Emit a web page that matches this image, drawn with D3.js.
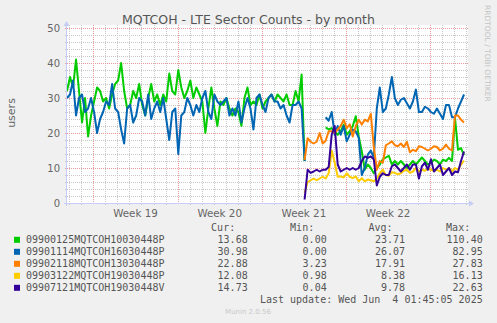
<!DOCTYPE html>
<html><head><meta charset="utf-8">
<script src="https://cdn.jsdelivr.net/npm/d3@7"></script>
<style>body{margin:0;background:#f0f0f0;}svg{display:block}</style>
</head><body><svg id="c" width="497" height="323"></svg>
<script>
const title = "MQTCOH - LTE Sector Counts - by month";
const yLabel = "users";
const seriesNames = ["09900125MQTCOH10030448P","09901114MQTCOH16030448P","09902118MQTCOH13030448P","09903122MQTCOH19030448P","09907121MQTCOH19030448V"];
const seriesColors = ["#00cc00","#0066b3","#ff8000","#ffcc00","#330099"];
const N6 = [null,null,null,null,null,null];
const N79 = Array(79).fill(null);
const green = [32,36,33,41,32,23,30,19,25,29, 33,32,29,30,27,31,34,35,40,32, 27,28,32,30,34,28,25,30,34,29, 31,28,31,29,37,32,31,38,33,30, 32,35,30,33,31,29,20,27,33,27, 22,29,28,30,27,25,27,26,22,30, 33,28,29,28,31,27,29,30,31,29, 31,30,29,31,28,28,32,29,36.7,12,
  ...N6,
  21.6,21,21.4,20.5,19.5,20.5,22.4,19.5,20.5,22, 24.8,19,14.8,9.5,11,10,8.5,10,11,12.5, 13,13.5,11,12,11,12,11,10,11,12, 11,12,13,12,11,11.5,12.4,12,11,12.4, 12,12.9,12,24.3,15.2,15.7,13.7];
const blue = [30,31,35,25,30,31,26,27,30,26, 20,24,26,29,28,34,27,26,21,17, 27,28,23,25,30,29,25,31,24,27, 29,26,30,24,18,26,27,14,25,26, 30,28,25,28,26,30,32,26,24,31, 29,28,29,30,25,27,25,29,23,27, 30,27,21,30,31,28,26,30,31,29, 29,27,28,25,23,28,28,29,27,12,
  ...N6,
  24.5,23.5,26,19.5,22,19.5,22,17.6,19.5,21, 20.5,18.6,8,10,13.8,15,13,27,33,26, 27,31,36,30,28,29.5,30,28.5,27,29, 32.4,26,26,27.5,27,26,25.5,27,25.5,24, 28,28,24.5,24.5,27,29,31];
const orange = [...N79, 12.3,18.5,17.5,17,17.5,20,17,17.8,20.5,20.5, 20,21,22,23.8,21.4,22.5,19,22,23.8,22.4, 23.8,23.3,25.5,16,9.5,12,11.5,16.5,17,17.6, 16.5,16.2,17,16,17.5,14.5,15.2,14.8,16.2,16, 15.5,15,15.5,16.2,16,15,15.5,16.7,15.5,15, 25,25,23.8,23];
const yellow = [...N79, 2.9,6,6.5,7,6.5,7,7.5,7,8.5,15, 11.5,7.5,7.6,7.3,8.5,7.5,7.1,7.6,6.2,7.1, 6.2,6.7,6.5,6.2,7,8.5,9.5,8,7.8,8.8, 8.6,8.2,8.5,9.2,9.5,8.6,9,10,9,9.5, 9.2,9.8,9.5,9.2,9.5,9,10,9.5,10,9, 10,9.5,11,12.1];
const purple = [...N79, 1,9.5,8.6,9,9.5,9,9.5,9.5,10.3,19.5, 22,11,9,9.5,10,9.5,10,9.5,10,12, 13.3,12.9,13.3,12.5,5,7.5,8.5,8,8,10.5, 11,10,9,10,11,9.5,11,11,7,10.5, 11.5,9.5,12.5,9,10,11,8,9,10,8, 9,8.8,12,14.7];
const curVals = ["13.68","30.98","22.88","12.08","14.73"];
const minVals = ["0.00","0.00","3.23","0.98","0.04"];
const avgVals = ["23.71","26.07","17.91","8.38","9.78"];
const maxVals = ["110.40","82.95","27.83","16.13","22.63"];
const colHeads = ["Cur:","Min:","Avg:","Max:"];
const yTicks = [0,10,20,30,40,50];
const lastUpdate = "Last update: Wed Jun  4 01:45:05 2025";
const version = "Munin 2.0.56";
const watermark = "RRDTOOL / TOBI OETIKER";
const startTime = new Date(Date.UTC(2025,4,2,19,26));
const stepHours = 6;
const spanDays = 33.33;

const svg = d3.select("#c");
const W = 497, H = 323;
svg.append("rect").attr("width",W).attr("height",H).attr("fill","#f0f0f0");
const L = 67, R = 468, T = 28, B = 203;
const endTime = new Date(+startTime + spanDays*864e5);
const x = d3.scaleUtc().domain([startTime,endTime]).range([L,R]);
const y = d3.scaleLinear().domain([0,50]).range([B,T]);

svg.append("rect").attr("x",L).attr("y",25).attr("width",R-L).attr("height",B-25).attr("fill","#fff");

// grid
const g = svg.append("g");
const minorY = d3.range(0,51,2).filter(v=>v%10!==0);
g.selectAll(".hy").data(minorY).join("line").attr("x1",L).attr("x2",R).attr("y1",d=>Math.round(y(d))+0.5).attr("y2",d=>Math.round(y(d))+0.5)
 .attr("stroke","#c8c8c8").attr("stroke-dasharray","1,1");
const days = d3.utcDay.range(startTime,endTime).filter(d=>d.getUTCDay()!==1);
g.selectAll(".vx").data(days).join("line").attr("x1",d=>Math.round(x(d))+0.5).attr("x2",d=>Math.round(x(d))+0.5).attr("y1",25).attr("y2",B)
 .attr("stroke","#c8c8c8").attr("stroke-dasharray","1,1");
const mondays = d3.utcMonday.range(startTime,endTime);
g.selectAll(".mx").data(mondays).join("line").attr("x1",d=>Math.round(x(d))+0.5).attr("x2",d=>Math.round(x(d))+0.5).attr("y1",25).attr("y2",B+2)
 .attr("stroke","#e69a9a").attr("stroke-dasharray","1,1");
g.selectAll(".my").data(yTicks).join("line").attr("x1",L-2).attr("x2",R).attr("y1",d=>Math.round(y(d))+0.5).attr("y2",d=>Math.round(y(d))+0.5)
 .attr("stroke","#e69a9a").attr("stroke-dasharray","1,1");
g.selectAll(".tx").data(days).join("line").attr("x1",d=>Math.round(x(d))+0.5).attr("x2",d=>Math.round(x(d))+0.5).attr("y1",B).attr("y2",B+2).attr("stroke","#c8c8c8");
g.selectAll(".ty").data(minorY).join("line").attr("x1",L-2).attr("x2",L).attr("y1",d=>Math.round(y(d))+0.5).attr("y2",d=>Math.round(y(d))+0.5).attr("stroke","#c8c8c8");

// series
const series = [green,blue,orange,yellow,purple];
const line = d3.line().defined(d=>d.v!=null).x(d=>x(d.t)).y(d=>y(d.v));
series.forEach((s,k)=>{
  const pts = s.map((v,i)=>({t:new Date(+startTime + i*stepHours*36e5), v}));
  svg.append("path").attr("d",line(pts)).attr("fill","none").attr("stroke",seriesColors[k]).attr("stroke-width",2).attr("stroke-linejoin","round");
});

// axes
const axisC = "#c5ccf5";
svg.append("line").attr("x1",L-0.5).attr("x2",L-0.5).attr("y1",B+3).attr("y2",24).attr("stroke",axisC);
svg.append("path").attr("d",`M${L-3.5},26 L${L-0.5},21 L${L+2.5},26 Z`).attr("fill",axisC);
svg.append("line").attr("x1",L-3).attr("x2",R+2).attr("y1",B+0.5).attr("y2",B+0.5).attr("stroke",axisC);
svg.append("path").attr("d",`M${R+1},${B-2.5} L${R+6},${B+0.5} L${R+1},${B+3.5} Z`).attr("fill",axisC);

// texts
const sans = "DejaVu Sans", mono = "DejaVu Sans Mono";
svg.append("text").attr("x",248.5).attr("y",24).attr("text-anchor","middle").attr("font-family",sans).attr("font-size",12.5).attr("fill","#555").text(title);
svg.append("text").attr("transform","translate(15,113) rotate(-90)").attr("text-anchor","middle").attr("font-family",sans).attr("font-size",11).attr("fill","#666").text(yLabel);
svg.selectAll(".yl").data(yTicks).join("text").attr("x",60).attr("y",d=>y(d)+3.6).attr("text-anchor","end").attr("font-family",sans).attr("font-size",10).attr("fill","#666").text(d=>d);
const weekMid = mondays.slice(0,-1).map(d=>new Date(+d + 3.5*864e5));
svg.selectAll(".wl").data(weekMid).join("text").attr("x",d=>x(d)).attr("y",216.5).attr("text-anchor","middle").attr("font-family",sans).attr("font-size",10.3).attr("fill","#666").text(d=>"Week "+d3.utcFormat("%V")(d));
svg.append("text").attr("transform","translate(485,5) rotate(90)").attr("font-family",sans).attr("font-size",7.5).attr("fill","#c4c4c4").text(watermark);

// legend
const colRight = [247.7,326.7,405,482.7];
const cols = [curVals,minVals,avgVals,maxVals];
colHeads.forEach((h,j)=>svg.append("text").attr("x",colRight[j]-12.5).attr("y",231.3).attr("text-anchor","end").attr("font-family",mono).attr("font-size",10).attr("fill","#555").text(h));
seriesNames.forEach((n,k)=>{
  const by = 243.3 + k*12;
  svg.append("rect").attr("x",14).attr("y",by-6.5).attr("width",6).attr("height",6).attr("fill",seriesColors[k]);
  svg.append("text").attr("x",26).attr("y",by).attr("font-family",mono).attr("font-size",10).attr("fill","#555").text(n);
  cols.forEach((c,j)=>svg.append("text").attr("x",colRight[j]).attr("y",by).attr("text-anchor","end").attr("font-family",mono).attr("font-size",10).attr("fill","#555").text(c[k]));
});
svg.append("text").attr("x",482.7).attr("y",303.3).attr("text-anchor","end").attr("font-family",mono).attr("font-size",10).attr("fill","#555").style("white-space","pre").text(lastUpdate);
svg.append("text").attr("x",248).attr("y",314).attr("text-anchor","middle").attr("font-family",sans).attr("font-size",7).attr("fill","#c8c8c8").text(version);
</script></body></html>
